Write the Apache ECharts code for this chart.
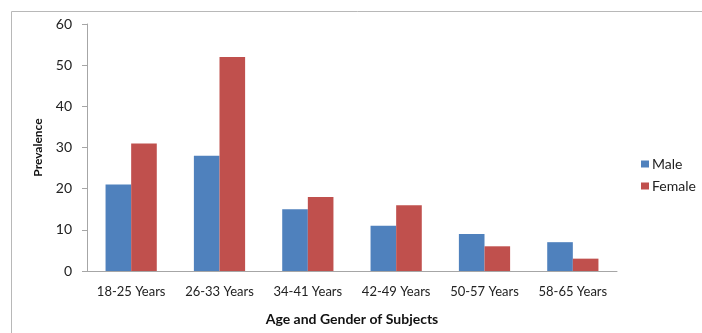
<!DOCTYPE html>
<html>
<head>
<meta charset="utf-8">
<script src="https://cdn.jsdelivr.net/npm/echarts@6/dist/echarts.min.js"></script>
<style>
  html, body { margin: 0; padding: 0; background: #fff; }
  #chart { width: 702px; height: 333px; }
</style>
</head>
<body>
<div id="chart"></div>
<script>
// Prevalence by age group, split by gender
const ageGroups = ['18-25 Years', '26-33 Years', '34-41 Years', '42-49 Years', '50-57 Years', '58-65 Years'];
const maleValues = [21, 28, 15, 11, 9, 7];
const femaleValues = [31, 52, 18, 16, 6, 3];
const yTicks = { min: 0, max: 60, interval: 10 };

const FONT = 'Lato, "Open Sans", sans-serif';
const chart = echarts.init(document.getElementById('chart'), null, { renderer: 'canvas' });

chart.setOption({
  animation: false,
  backgroundColor: '#fff',
  textStyle: { fontFamily: FONT },
  graphic: [{
    type: 'rect',
    shape: { x: 11.5, y: 11.5, width: 720, height: 340 },
    style: { fill: 'none', stroke: '#b8b8b8', lineWidth: 1 },
    silent: true,
    z: -1
  }],
  legend: {
    orient: 'vertical',
    left: 641,
    top: 157,
    padding: 0,
    itemWidth: 8,
    itemHeight: 7,
    itemGap: 8,
    icon: 'rect',
    textStyle: { fontFamily: FONT, fontSize: 14, color: '#222', padding: [0, 0, 0, -2] },
    data: ['Male', 'Female']
  },
  grid: { left: 87, right: 85, top: 24, bottom: 62 },
  xAxis: {
    type: 'category',
    data: ageGroups,
    name: 'Age and Gender of Subjects',
    nameLocation: 'middle',
    nameGap: 41,
    nameTextStyle: { fontFamily: FONT, fontWeight: 'bold', fontSize: 14, color: '#111' },
    axisLine: { lineStyle: { color: '#a6a6a6' } },
    axisTick: { alignWithLabel: false, length: 5, lineStyle: { color: '#a6a6a6' } },
    axisLabel: { fontFamily: FONT, fontSize: 13, color: '#222', margin: 14, interval: 0 }
  },
  yAxis: {
    type: 'value',
    min: yTicks.min,
    max: yTicks.max,
    interval: yTicks.interval,
    name: 'Prevalence',
    nameLocation: 'middle',
    nameGap: 43,
    nameRotate: 90,
    nameTextStyle: { fontFamily: FONT, fontWeight: 'bold', fontSize: 12, color: '#111' },
    axisLine: { show: true, lineStyle: { color: '#a6a6a6' } },
    axisTick: { show: true, length: 5, inside: false, lineStyle: { color: '#a6a6a6' } },
    axisLabel: { fontFamily: FONT, fontSize: 14, color: '#222', margin: 15 },
    splitLine: { show: false }
  },
  series: [
    {
      name: 'Male',
      type: 'bar',
      data: maleValues,
      barGap: '0%',
      barCategoryGap: '42%',
      itemStyle: { color: '#4f81bd' }
    },
    {
      name: 'Female',
      type: 'bar',
      data: femaleValues,
      barGap: '0%',
      barCategoryGap: '42%',
      itemStyle: { color: '#c0504d' }
    }
  ]
});
</script>
</body>
</html>
